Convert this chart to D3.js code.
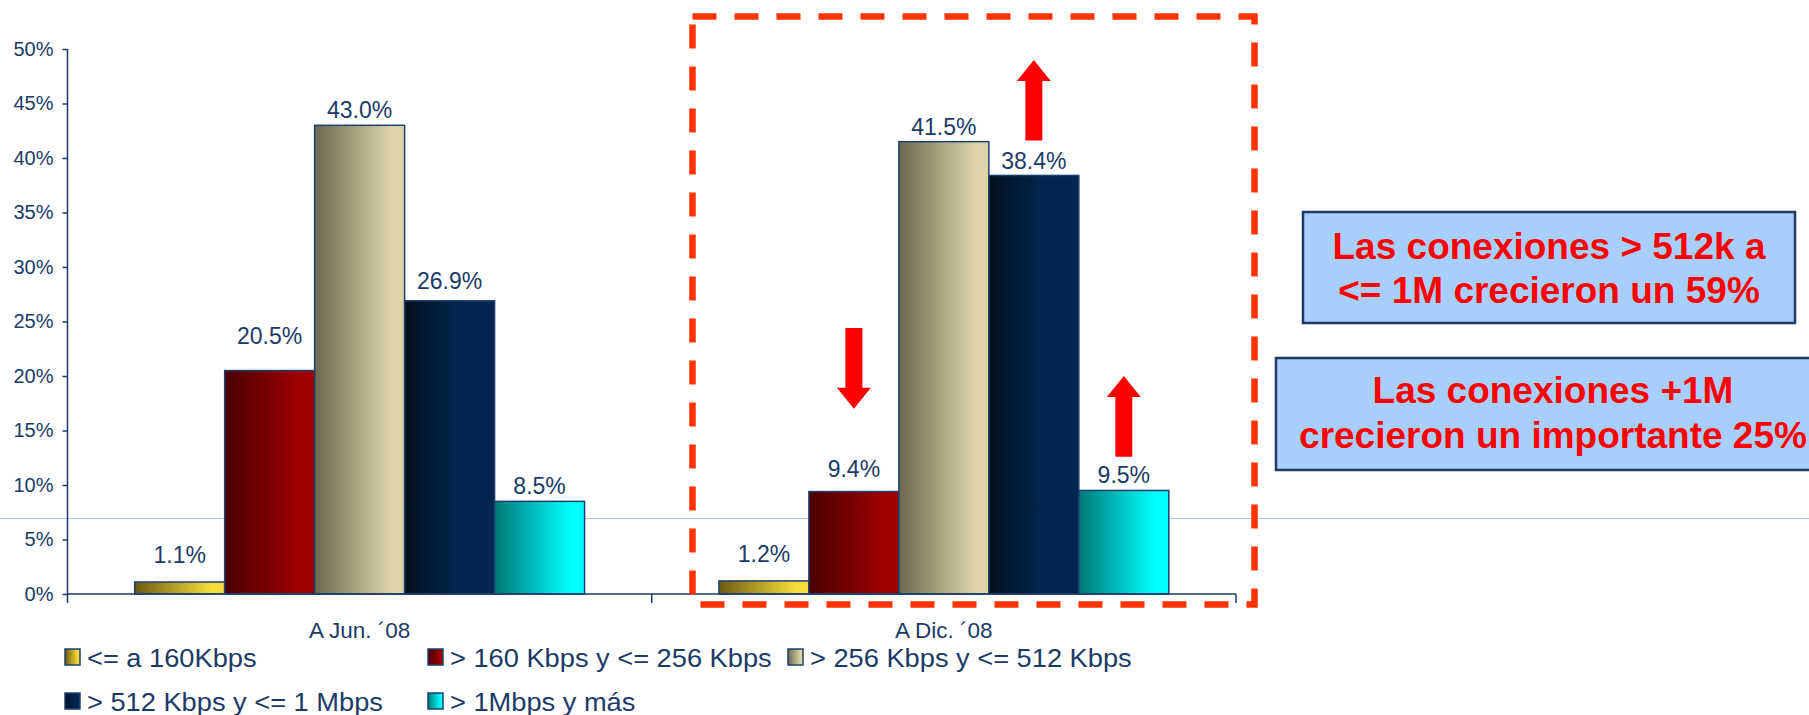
<!DOCTYPE html>
<html>
<head>
<meta charset="utf-8">
<script src="https://cdn.jsdelivr.net/npm/d3@7"></script>
<style>
  html, body { margin: 0; padding: 0; background: #fff; }
  svg { display: block; }
  text { font-family: "Liberation Sans", Arial, sans-serif; }
</style>
</head>
<body>
<svg id="chart" width="1809" height="715"></svg>
<script>
// ---------- DATA ----------
const categories = ["A Jun. \u00B408", "A Dic. \u00B408"];
const seriesNames = [
  "<= a 160Kbps",
  "> 160 Kbps y <= 256 Kbps",
  "> 256 Kbps y <= 512 Kbps",
  "> 512 Kbps y <= 1 Mbps",
  "> 1Mbps y m\u00E1s"
];
const valuesJun = [1.1, 20.5, 43.0, 26.9, 8.5];
const valuesDic = [1.2, 9.4, 41.5, 38.4, 9.5];
const yTicks = [0, 5, 10, 15, 20, 25, 30, 35, 40, 45, 50];
const seriesGradients = [
  ["#6b5a12", "#f5dc38"],
  ["#4a0000", "#a00000"],
  ["#6a6850", "#ddd5a8"],
  ["#020f1c", "#00264f"],
  ["#007878", "#00ffff"]
];
// arrows: [series index in "A Dic." group, tail value %, tip value %]
const arrowSeries = [1, 3, 4];
const arrowTail = [24.4, 41.6, 12.6];
const arrowTip = [17.0, 49.0, 20.0];
const calloutLines1 = ["Las conexiones > 512k a", "<= 1M crecieron un 59%"];
const calloutLines2 = ["Las conexiones +1M", "crecieron un importante 25%"];

// ---------- LAYOUT ----------
const navy = "#1b3a68";
const svg = d3.select("#chart");
const defs = svg.append("defs");

seriesGradients.forEach((g, i) => {
  const lg = defs.append("linearGradient").attr("id", "grad" + i)
    .attr("x1", "0").attr("x2", "1").attr("y1", "0").attr("y2", "0");
  lg.append("stop").attr("offset", "0%").attr("stop-color", g[0]);
  lg.append("stop").attr("offset", i === 3 ? "60%" : "85%").attr("stop-color", g[1]);
  lg.append("stop").attr("offset", "100%").attr("stop-color", g[1]);
});

const plotLeft = 67.5, plotRight = 1236, plotTop = 49, plotBottom = 594;
const y = d3.scaleLinear().domain([0, 50]).range([plotBottom, plotTop]);
const x0 = d3.scaleBand().domain(categories).range([plotLeft, plotRight])
  .paddingInner(0.23).paddingOuter(0.115);
const x1 = d3.scaleBand().domain(d3.range(seriesNames.length)).range([0, x0.bandwidth()]).padding(0);

const data = [valuesJun, valuesDic];

// light horizontal line behind bars
svg.append("line").attr("x1", 0).attr("x2", 1809)
  .attr("y1", 518.5).attr("y2", 518.5)
  .attr("stroke", "#a9c9ee").attr("stroke-width", 1);

// bars
const groups = svg.selectAll("g.cat").data(categories).enter().append("g")
  .attr("class", "cat")
  .attr("transform", d => `translate(${x0(d)},0)`);

groups.each(function(cat, ci) {
  const g = d3.select(this);
  const vals = data[ci];
  g.selectAll("rect").data(vals).enter().append("rect")
    .attr("x", (d, i) => x1(i))
    .attr("y", d => y(d))
    .attr("width", x1.bandwidth())
    .attr("height", d => plotBottom - y(d))
    .attr("fill", (d, i) => `url(#grad${i})`)
    .attr("stroke", "#1f3f6e").attr("stroke-width", 1.5);
});

// value labels (gap above bar, layout only)
const labelGap = [[19, 27, 7, 12, 7], [19, 15, 7, 6, 7]];
groups.each(function(cat, ci) {
  const g = d3.select(this);
  g.selectAll("text.val").data(data[ci]).enter().append("text")
    .attr("class", "val")
    .attr("x", (d, i) => x1(i) + x1.bandwidth() / 2)
    .attr("y", (d, i) => y(d) - labelGap[ci][i])
    .attr("text-anchor", "middle")
    .attr("font-size", 23)
    .attr("fill", navy)
    .text(d => d.toFixed(1) + "%");
});

// y axis
const yAxis = d3.axisLeft(y).tickValues(yTicks).tickSize(5).tickFormat(d => d + "%");
const yg = svg.append("g").attr("transform", `translate(${plotLeft},0)`).call(yAxis);
yg.select(".domain").attr("stroke", navy).attr("stroke-width", 1.5)
  .attr("d", `M0,${plotTop}V${plotBottom + 9}`);
yg.selectAll(".tick line").attr("stroke", navy).attr("stroke-width", 1.5);
yg.selectAll(".tick text").attr("fill", navy).attr("font-size", 20)
  .attr("font-family", "'Liberation Sans', Arial, sans-serif").attr("x", -14);

// x axis line with category boundary ticks
svg.append("line").attr("x1", plotLeft).attr("x2", plotRight)
  .attr("y1", plotBottom).attr("y2", plotBottom)
  .attr("stroke", navy).attr("stroke-width", 1.5);
const boundaries = [x0.step() + plotLeft, plotRight];
svg.selectAll("line.bnd").data(boundaries).enter().append("line")
  .attr("x1", d => d).attr("x2", d => d)
  .attr("y1", plotBottom).attr("y2", plotBottom + 9)
  .attr("stroke", navy).attr("stroke-width", 1.5);

// category labels
svg.selectAll("text.cat").data(categories).enter().append("text")
  .attr("x", d => x0(d) + x0.bandwidth() / 2)
  .attr("y", 638)
  .attr("text-anchor", "middle")
  .attr("font-size", 22.5)
  .attr("fill", navy)
  .text(d => d);

// legend
const legendPos = [[65, 649], [428, 649], [788, 649], [65, 693], [428, 693]];
const lg = svg.append("g");
seriesNames.forEach((name, i) => {
  const [lx, ly] = legendPos[i];
  lg.append("rect").attr("x", lx).attr("y", ly).attr("width", 15).attr("height", 16)
    .attr("fill", `url(#grad${i})`).attr("stroke", "#1f3f6e").attr("stroke-width", 1.5);
  lg.append("text")
    .attr("transform", `translate(${lx + 22},${ly + 17.5}) scale(1.09,1)`)
    .attr("font-size", 25).attr("fill", navy)
    .text(name);
});

// dashed highlight box around the second group
svg.append("rect")
  .attr("x", 692.5).attr("y", 16.5).attr("width", 562).attr("height", 588)
  .attr("fill", "none").attr("stroke", "#ff3300").attr("stroke-width", 6.5)
  .attr("stroke-dasharray", "24 18");

// arrows
const dicX = x0(categories[1]);
arrowSeries.forEach((si, k) => {
  const cx = dicX + x1(si) + x1.bandwidth() / 2;
  const yt = y(arrowTail[k]);
  const yp = y(arrowTip[k]);
  const dir = yp < yt ? -1 : 1; // -1 = up
  const headH = 21, headW = 17, shaftW = 8.5;
  const yb = yp - dir * headH;
  const pts = [
    [cx - shaftW, yt], [cx + shaftW, yt], [cx + shaftW, yb], [cx + headW, yb],
    [cx, yp], [cx - headW, yb], [cx - shaftW, yb]
  ];
  svg.append("polygon").attr("points", pts.map(p => p.join(",")).join(" "))
    .attr("fill", "#ff0000");
});

// callout boxes
function callout(x, yTop, w, h, lines, baselines, cx) {
  svg.append("rect").attr("x", x).attr("y", yTop).attr("width", w).attr("height", h)
    .attr("fill", "#a8cffb").attr("stroke", "#1f3864").attr("stroke-width", 2.5);
  lines.forEach((t, i) => {
    svg.append("text").attr("x", cx).attr("y", baselines[i])
      .attr("text-anchor", "middle").attr("font-size", 37).attr("font-weight", "bold")
      .attr("fill", "#ff0000").text(t);
  });
}
callout(1303, 212, 492, 111, calloutLines1, [259, 303], 1549);
callout(1276, 358, 560, 112, calloutLines2, [403, 448], 1553);
</script>
</body>
</html>
